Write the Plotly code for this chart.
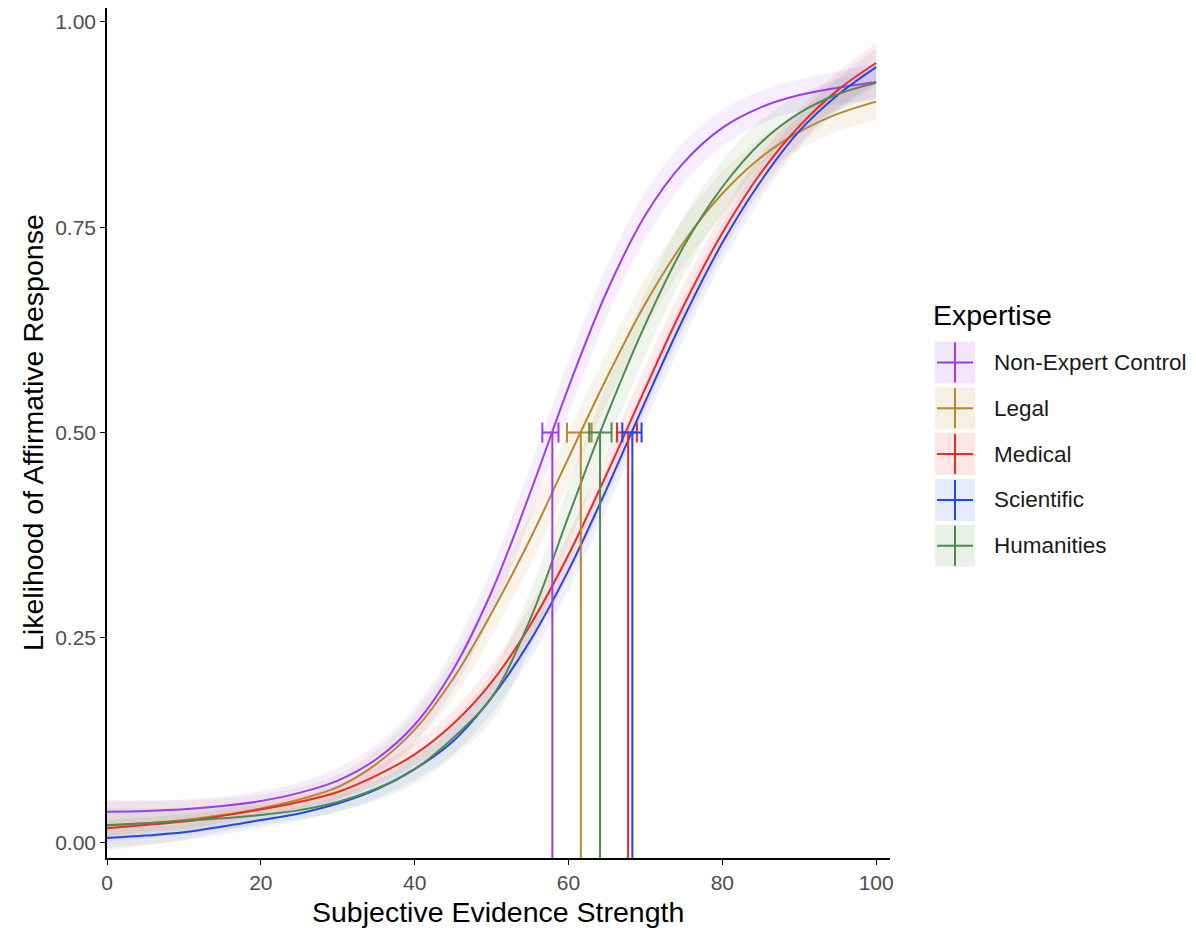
import plotly.graph_objects as go

# ---------------- data ----------------
x_grid = [0, 5, 10, 15, 20, 25, 30, 35, 40, 45, 50, 55, 60, 65, 70, 75, 80, 85, 90, 95, 100]

groups = ["Non-Expert Control", "Legal", "Medical", "Scientific", "Humanities"]
colors = ["#9E3BEF", "#B5892E", "#EE2A24", "#2245F0", "#4E8A4E"]
fills = ["rgba(158,59,239,0.09)", "rgba(181,137,46,0.09)", "rgba(238,42,36,0.09)",
         "rgba(34,69,240,0.08)", "rgba(78,138,78,0.09)"]
key_fills = ["#F1E6FC", "#F6F0E4", "#FCE7E6", "#E6EAFC", "#EAF1EA"]

nonexpert = [0.038, 0.039, 0.041, 0.045, 0.051, 0.061, 0.076, 0.102, 0.144, 0.211, 0.306,
             0.426, 0.555, 0.672, 0.765, 0.829, 0.871, 0.896, 0.911, 0.920, 0.927]
legal = [0.021, 0.024, 0.028, 0.034, 0.042, 0.053, 0.068, 0.096, 0.138, 0.200, 0.280,
         0.370, 0.469, 0.567, 0.657, 0.732, 0.791, 0.835, 0.866, 0.888, 0.903]
medical = [0.018, 0.022, 0.026, 0.033, 0.041, 0.050, 0.062, 0.082, 0.108, 0.145, 0.196,
           0.265, 0.351, 0.450, 0.554, 0.655, 0.743, 0.816, 0.873, 0.917, 0.950]
scientific = [0.006, 0.009, 0.013, 0.020, 0.028, 0.036, 0.048, 0.065, 0.090, 0.124, 0.177,
              0.246, 0.332, 0.432, 0.538, 0.640, 0.731, 0.806, 0.867, 0.911, 0.945]
humanities = [0.022, 0.024, 0.027, 0.030, 0.034, 0.040, 0.050, 0.066, 0.090, 0.128, 0.177,
              0.272, 0.398, 0.521, 0.632, 0.727, 0.799, 0.853, 0.889, 0.912, 0.926]

nonexpert_se = [0.014, 0.013, 0.012, 0.012, 0.012, 0.013, 0.015, 0.018, 0.021, 0.025, 0.028,
                0.031, 0.032, 0.031, 0.028, 0.025, 0.022, 0.020, 0.019, 0.020, 0.022]
legal_se = [0.030, 0.027, 0.024, 0.020, 0.017, 0.015, 0.015, 0.017, 0.020, 0.024, 0.028,
            0.031, 0.032, 0.032, 0.031, 0.029, 0.026, 0.023, 0.021, 0.021, 0.022]
medical_se = [0.010, 0.009, 0.009, 0.008, 0.008, 0.008, 0.009, 0.011, 0.014, 0.017, 0.021,
              0.024, 0.026, 0.027, 0.027, 0.026, 0.024, 0.022, 0.021, 0.022, 0.024]
scientific_se = [0.012, 0.011, 0.010, 0.010, 0.009, 0.009, 0.010, 0.011, 0.013, 0.016, 0.019,
                 0.022, 0.024, 0.025, 0.025, 0.025, 0.023, 0.021, 0.020, 0.020, 0.022]
humanities_se = [0.020, 0.018, 0.016, 0.014, 0.012, 0.011, 0.012, 0.014, 0.018, 0.023, 0.029,
                 0.034, 0.037, 0.038, 0.038, 0.036, 0.032, 0.027, 0.022, 0.019, 0.018]

# x at which each curve reaches 0.5, with its interval
mid50 = [57.9, 61.6, 67.75, 68.3, 64.1]
mid50_lo = [56.6, 59.8, 66.3, 67.0, 62.7]
mid50_hi = [58.7, 63.0, 68.9, 69.5, 65.6]

x_ticks = [0, 20, 40, 60, 80, 100]
y_ticks = [0.0, 0.25, 0.5, 0.75, 1.0]
y_tick_labels = ["0.00", "0.25", "0.50", "0.75", "1.00"]

curves = [nonexpert, legal, medical, scientific, humanities]
ses = [nonexpert_se, legal_se, medical_se, scientific_se, humanities_se]

X_RANGE = [0, 101.8]
Y_RANGE = [-0.0183, 1.017]

FONT = "Liberation Sans, Arial, Helvetica, sans-serif"

fig = go.Figure()

# ribbons
for i, g in enumerate(groups):
    lo = [c - s for c, s in zip(curves[i], ses[i])]
    hi = [c + s for c, s in zip(curves[i], ses[i])]
    fig.add_trace(go.Scatter(x=x_grid, y=lo, mode="lines", line=dict(width=0, shape="spline"),
                             hoverinfo="skip", showlegend=False))
    fig.add_trace(go.Scatter(x=x_grid, y=hi, mode="lines", line=dict(width=0, shape="spline"),
                             fill="tonexty", fillcolor=fills[i], hoverinfo="skip", showlegend=False))

# curves
for i, g in enumerate(groups):
    fig.add_trace(go.Scatter(x=x_grid, y=curves[i], mode="lines", name=g,
                             line=dict(color=colors[i], width=2, shape="spline", smoothing=1.0),
                             showlegend=False))

# vertical drop lines and horizontal error bars at 0.5
for i, g in enumerate(groups):
    fig.add_trace(go.Scatter(x=[mid50[i], mid50[i]], y=[0.5, Y_RANGE[0]], mode="lines",
                             line=dict(color=colors[i], width=2), showlegend=False, hoverinfo="skip"))
    fig.add_trace(go.Scatter(x=[mid50[i]], y=[0.5], mode="markers",
                             marker=dict(color="rgba(0,0,0,0)", size=2),
                             error_x=dict(type="data", symmetric=False,
                                          array=[mid50_hi[i] - mid50[i]],
                                          arrayminus=[mid50[i] - mid50_lo[i]],
                                          color=colors[i], thickness=2, width=10),
                             showlegend=False, hoverinfo="skip"))

# ---------------- layout ----------------
L, R, T, B = 107, 890, 8, 858
W, H = 1196, 930


def px_x(px):
    return (px - L) / (R - L)


def px_y(py):
    return (B - py) / (B - T)


TICKFONT = dict(size=21, color="#4D4D4D", family=FONT)

fig.update_layout(
    width=W, height=H,
    margin=dict(l=L, r=W - R, t=T, b=H - B),
    paper_bgcolor="white", plot_bgcolor="white",
    font=dict(family=FONT),
    showlegend=False,
    xaxis=dict(range=X_RANGE, tickvals=x_ticks, ticktext=[str(v) for v in x_ticks],
               showgrid=False, zeroline=False, showline=True, linecolor="black", linewidth=1.6,
               ticks="outside", ticklen=5, tickwidth=1.4, tickcolor="black",
               tickfont=TICKFONT),
    yaxis=dict(range=Y_RANGE, tickvals=y_ticks, ticktext=y_tick_labels,
               showgrid=False, zeroline=False, showline=True, linecolor="black", linewidth=1.6,
               ticks="outside", ticklen=5, tickwidth=1.4, tickcolor="black",
               tickfont=TICKFONT),
)

annotations = [
    dict(text="Subjective Evidence Strength", x=px_x(498), y=px_y(912), xref="paper", yref="paper",
         showarrow=False, font=dict(size=28.5, color="black", family=FONT), xanchor="center", yanchor="middle"),
    dict(text="Likelihood of Affirmative Response", x=px_x(33), y=px_y(433), xref="paper", yref="paper",
         showarrow=False, textangle=-90, font=dict(size=28.5, color="black", family=FONT),
         xanchor="center", yanchor="middle"),
    dict(text="Expertise", x=px_x(931), y=px_y(315), xref="paper", yref="paper",
         showarrow=False, font=dict(size=28.5, color="black", family=FONT), xanchor="left", yanchor="middle"),
]

shapes = []
for i, g in enumerate(groups):
    cy = 362.5 + i * 45.8
    shapes.append(dict(type="rect", xref="paper", yref="paper",
                       x0=px_x(935), x1=px_x(975), y0=px_y(cy - 21), y1=px_y(cy + 21),
                       fillcolor=key_fills[i], line=dict(width=0)))
    shapes.append(dict(type="line", xref="paper", yref="paper",
                       x0=px_x(937), x1=px_x(973), y0=px_y(cy), y1=px_y(cy),
                       line=dict(color=colors[i], width=2)))
    shapes.append(dict(type="line", xref="paper", yref="paper",
                       x0=px_x(955), x1=px_x(955), y0=px_y(cy - 20), y1=px_y(cy + 20),
                       line=dict(color=colors[i], width=2)))
    annotations.append(dict(text=g, x=px_x(992), y=px_y(cy), xref="paper", yref="paper",
                            showarrow=False, font=dict(size=22.5, color="#1A1A1A", family=FONT),
                            xanchor="left", yanchor="middle"))

fig.update_layout(annotations=annotations, shapes=shapes)

fig.write_html("out.html")
